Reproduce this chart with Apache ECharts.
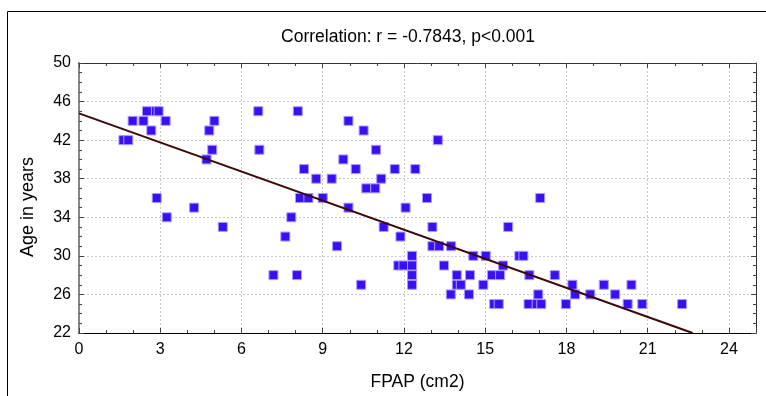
<!DOCTYPE html>
<html>
<head>
<meta charset="utf-8">
<script src="https://cdn.jsdelivr.net/npm/echarts@6/dist/echarts.min.js"></script>
<style>
  html, body { margin: 0; padding: 0; background: #fff; }
  #chart { width: 766px; height: 396px; }
</style>
</head>
<body>
<div id="chart"></div>
<script>
// FPAP (cm2) values
var fpap = [
    2.51, 2.84, 2.94, 1.98, 2.38, 3.2, 2.67, 1.64, 1.82, 6.62,
    5.0, 4.81, 4.92, 6.66, 4.71, 2.87, 4.25, 3.24, 5.31,
    8.08, 9.95, 10.51, 13.25, 10.97, 9.76, 8.31, 10.22, 11.66, 12.42,
    8.76, 9.33, 11.16, 10.61, 10.94, 8.16, 8.47, 9.0, 12.85, 9.95,
    12.06, 7.84, 11.25, 13.05, 7.62, 11.87,
    9.53, 13.05, 13.3, 13.74, 12.3, 11.79, 11.98, 12.3, 12.3, 12.3,
    7.18, 8.05, 10.42, 17.03, 15.85,
    15.02, 16.26, 16.41, 14.56, 13.48, 15.66, 13.95, 14.44, 15.25, 15.55,
    16.63, 17.57, 13.95, 14.1, 14.93, 18.22, 13.73, 14.4, 16.96, 18.32,
    18.88, 19.8, 15.33, 15.5, 16.6, 16.9, 17.07, 17.98, 19.38,
    20.4, 20.26, 20.8, 22.27
];
// Age in years
var age = [
    45, 45, 45, 44, 44, 44, 43, 42, 42, 45,
    44, 43, 41, 41, 40, 36, 35, 34, 33,
    45, 44, 43, 42, 41, 40, 39, 39, 39, 39,
    38, 38, 38, 37, 37, 36, 36, 36, 36, 35,
    35, 34, 33, 33, 32, 32,
    31, 31, 31, 31, 30, 29, 29, 29, 28, 27,
    28, 28, 27, 36, 33,
    30, 30, 30, 30, 29, 29, 28, 28, 28, 28,
    28, 28, 27, 27, 27, 27, 26, 26, 26, 26,
    26, 26, 25, 25, 25, 25, 25, 25, 27,
    27, 25, 25, 25
];
// regression line end points
var fitX = [0, 22.66];
var fitY = [44.77, 22];

var xTicks = [0, 25, 3];   // min, max, interval
var yTicks = [22, 50, 4];

var points = fpap.map(function (v, i) { return [v, age[i]]; });
var fit = fitX.map(function (v, i) { return [v, fitY[i]]; });

var chart = echarts.init(document.getElementById('chart'));
var labelStyle = {
    fontFamily: 'Liberation Sans',
    fontSize: 16,
    color: '#000'
};
var option = {
    animation: false,
    title: {
        text: 'Correlation: r = -0.7843, p<0.001',
        left: 403,
        top: 23,
        textAlign: 'center',
        textStyle: {
            fontFamily: 'Liberation Sans',
            fontSize: 17.5,
            fontWeight: 'normal',
            color: '#000'
        }
    },
    graphic: [{
        type: 'rect',
        shape: { x: 7.5, y: 11.5, width: 800, height: 500 },
        style: { fill: 'none', stroke: '#000', lineWidth: 1 },
        silent: true
    }],
    grid: {
        left: 79,
        top: 63,
        right: 10,
        bottom: 63
    },
    xAxis: [{
        type: 'value',
        min: xTicks[0],
        max: xTicks[1],
        interval: xTicks[2],
        name: 'FPAP (cm2)',
        nameLocation: 'middle',
        nameGap: 40,
        nameTextStyle: {
            fontFamily: 'Liberation Sans',
            fontSize: 17.5,
            color: '#000'
        },
        axisLine: { show: true, onZero: false, lineStyle: { color: '#000', width: 1 } },
        axisTick: { show: true, inside: true, length: 5, lineStyle: { color: '#444' } },
        minorTick: { show: true, splitNumber: 3, length: 3, lineStyle: { color: '#444' } },
        axisLabel: Object.assign({ margin: 9, showMaxLabel: false }, labelStyle),
        splitLine: {
            show: true,
            lineStyle: { color: '#c8c8c8', type: [2, 2], width: 1 }
        }
    }, {
        type: 'value',
        position: 'top',
        min: xTicks[0],
        max: xTicks[1],
        interval: xTicks[2],
        axisLine: { show: true, onZero: false, lineStyle: { color: '#333', width: 1 } },
        axisTick: { show: true, inside: true, length: 5, lineStyle: { color: '#444' } },
        minorTick: { show: true, splitNumber: 3, length: 3, lineStyle: { color: '#444' } },
        axisLabel: { show: false },
        splitLine: { show: false }
    }],
    yAxis: [{
        type: 'value',
        min: yTicks[0],
        max: yTicks[1],
        interval: yTicks[2],
        name: 'Age in years',
        nameLocation: 'middle',
        nameGap: 42,
        nameTextStyle: {
            fontFamily: 'Liberation Sans',
            fontSize: 18,
            color: '#000',
            padding: [0, 18, 0, 0]
        },
        axisLine: { show: true, onZero: false, lineStyle: { color: '#888', width: 2 } },
        axisTick: { show: true, inside: true, length: 5, lineStyle: { color: '#444' } },
        minorTick: { show: true, splitNumber: 4, length: 3, lineStyle: { color: '#444' } },
        axisLabel: Object.assign({ margin: 8 }, labelStyle),
        splitLine: {
            show: true,
            lineStyle: { color: '#c8c8c8', type: [2, 2], width: 1 }
        }
    }, {
        type: 'value',
        position: 'right',
        min: yTicks[0],
        max: yTicks[1],
        interval: yTicks[2],
        axisLine: { show: true, onZero: false, lineStyle: { color: '#333', width: 1 } },
        axisTick: { show: true, inside: true, length: 5, lineStyle: { color: '#444' } },
        minorTick: { show: true, splitNumber: 4, length: 3, lineStyle: { color: '#444' } },
        axisLabel: { show: false },
        splitLine: { show: false }
    }],
    series: [
        {
            type: 'scatter',
            symbol: 'rect',
            symbolSize: 9,
            data: points,
            itemStyle: {
                color: '#3a0ff5',
                borderColor: '#a79cff',
                borderWidth: 1,
                opacity: 1
            },
            z: 3
        },
        {
            type: 'line',
            data: fit,
            symbol: 'none',
            lineStyle: { color: '#3d0808', width: 2 },
            z: 4
        }
    ]
};
chart.setOption(option);
</script>
</body>
</html>
